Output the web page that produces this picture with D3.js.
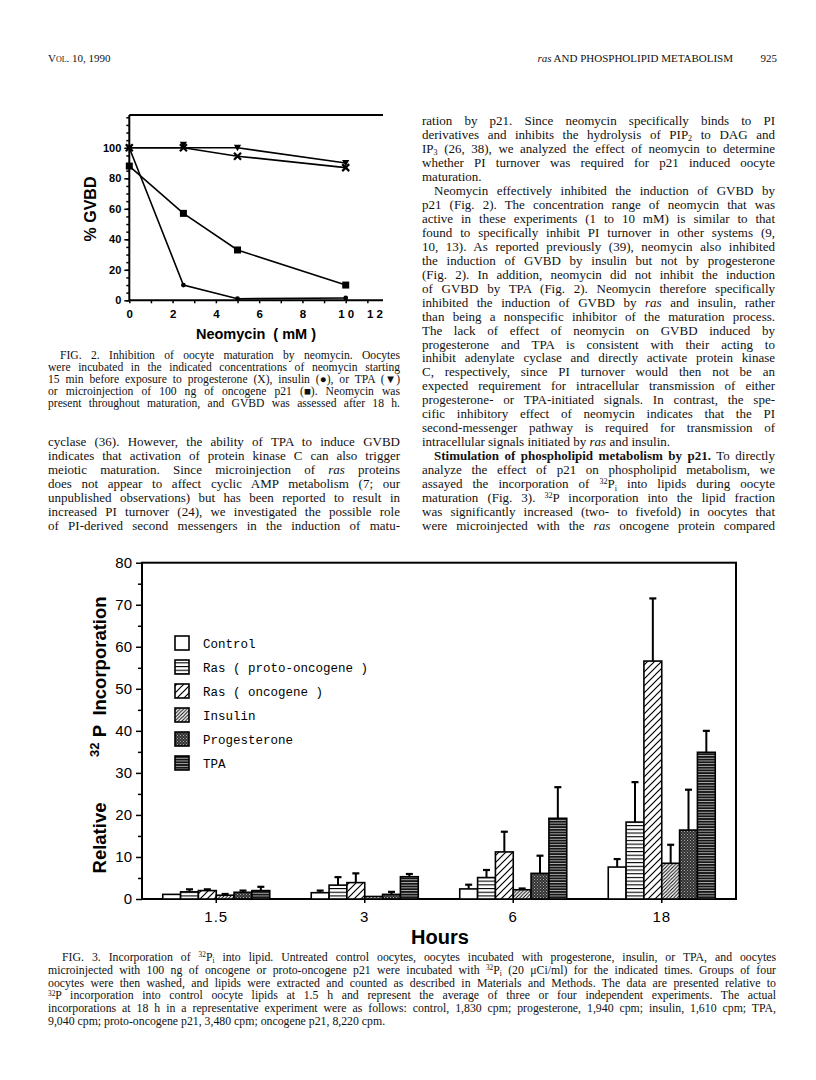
<!DOCTYPE html>
<html>
<head>
<meta charset="utf-8">
<script src="https://d3js.org/d3.v7.min.js"></script>
<style>
body { margin: 0; background: #fff; }
svg { display: block; }
</style>
</head>
<body>
<div id="page"></div>
<script>
// ---- FIG. 2 data (percent GVBD vs neomycin) ----
const neoDoses = [0, 2.5, 5, 10]
const gvbdTPA = [100, 102, 100, 90]
const gvbdProg = [100, 100, 94.5, 87]
const gvbdP21 = [88, 57, 33, 10]
const gvbdInsulin = [100, 10, 1, 1.5]
const neoTicks = [0, 2, 4, 6, 8, 10, 12]
const neoTickLabels = ["0", "2", "4", "6", "8", "1 0", "1 2"]
const gvbdTicks = [0, 20, 40, 60, 80, 100]

// ---- FIG. 3 data (relative 32P incorporation) ----
const hours = ["1.5", "3", "6", "18"]
const treatments = ["Control", "Ras ( proto-oncogene )", "Ras ( oncogene )", "Insulin", "Progesterone", "TPA"]
const incControl = [1.1, 1.5, 2.4, 7.6]
const incProto = [1.7, 3.3, 5.1, 18.3]
const incOnco = [2.0, 3.9, 11.2, 56.6]
const incInsulin = [0.9, 0.6, 2.2, 8.5]
const incProg = [1.6, 1.1, 6.1, 16.4]
const incTPA = [2.0, 5.3, 19.2, 34.9]
// error bars (upper only)
const sdControl = [0, 0.5, 1.0, 1.9]
const sdProto = [0.6, 1.9, 1.8, 9.5]
const sdOnco = [0.3, 2.2, 4.8, 14.9]
const sdInsulin = [0.3, 0, 0.3, 4.4]
const sdProg = [0.4, 0.6, 4.2, 9.6]
const sdTPA = [0.9, 0.65, 7.4, 5.1]
const relTicks = [0, 10, 20, 30, 40, 50, 60, 70, 80]

const W = 816, H = 1080
const svg = d3.select("#page").append("svg").attr("width", W).attr("height", H)
svg.append("rect").attr("width", W).attr("height", H).attr("fill", "#fff")

const serif = "'Liberation Serif', 'Times New Roman', serif"
const sans = "'Liberation Sans', Arial, Helvetica, sans-serif"
const mono = "'Liberation Mono', 'Courier New', monospace"

// ---------- page text helpers ----------
// tiny markup: <i>, <b>, <sup>, <sub>
function richLine(x, y, str, size, width, justify) {
    let t = svg.append("text").attr("x", x).attr("y", y)
        .attr("font-family", serif).attr("font-size", size).attr("fill", "#111")
        .attr("xml:space", "preserve")
    let parts = str.split(/(<\/?(?:i|b|sup|sub)>)/)
    let st = {i: false, b: false, shift: 0}
    let cur = 0
    parts.forEach(p => {
        let m = p.match(/^<(\/?)(i|b|sup|sub)>$/)
        if (m) {
            let on = m[1] === ""
            if (m[2] === "i") st.i = on
            if (m[2] === "b") st.b = on
            if (m[2] === "sup") st.shift = on ? -size * 0.3 : 0
            if (m[2] === "sub") st.shift = on ? size * 0.18 : 0
            return
        }
        if (p === "") return
        let ts = t.append("tspan").text(p)
            .attr("dy", st.shift - cur)
        cur = st.shift
        if (st.i) ts.attr("font-style", "italic")
        if (st.b) ts.attr("font-weight", "bold")
        if (st.shift !== 0) ts.attr("font-size", size * 0.62)
    })
    if (justify) {
        let plain = str.replace(/<[^>]+>/g, "")
        let nSp = (plain.trim().match(/ /g) || []).length
        let w = t.node().getComputedTextLength()
        if (nSp > 0) t.style("word-spacing", ((width - w) / nSp) + "px")
    }
    return t
}

function paragraph(lines, x0, y0, step, size, width, indent) {
    lines.forEach((l, i) => {
        let ind = l.indent ? indent : 0
        richLine(x0 + ind, y0 + i * step, l.t, size, width - ind, l.j !== false)
    })
}

// header
svg.append("text").attr("x", 48).attr("y", 62).attr("font-family", serif).attr("font-size", 11)
    .attr("fill", "#111").style("font-variant", "small-caps").text("Vol. 10, 1990")
svg.append("text").attr("x", 733).attr("y", 62).attr("text-anchor", "end").attr("font-family", serif)
    .attr("font-size", 11).attr("fill", "#111")
    .html("<tspan font-style='italic'>ras</tspan> AND PHOSPHOLIPID METABOLISM")
svg.append("text").attr("x", 777).attr("y", 62).attr("text-anchor", "end").attr("font-family", serif)
    .attr("font-size", 11).attr("fill", "#111").text("925")

const lineStep = 13.97
const bodySize = 13

// right column text
const rightCol = [
    {t: "ration by p21. Since neomycin specifically binds to PI"},
    {t: "derivatives and inhibits the hydrolysis of PIP<sub>2</sub> to DAG and"},
    {t: "IP<sub>3</sub> (26, 38), we analyzed the effect of neomycin to determine"},
    {t: "whether PI turnover was required for p21 induced oocyte"},
    {t: "maturation.", j: false},
    {t: "Neomycin effectively inhibited the induction of GVBD by", indent: true},
    {t: "p21 (Fig. 2). The concentration range of neomycin that was"},
    {t: "active in these experiments (1 to 10 mM) is similar to that"},
    {t: "found to specifically inhibit PI turnover in other systems (9,"},
    {t: "10, 13). As reported previously (39), neomycin also inhibited"},
    {t: "the induction of GVBD by insulin but not by progesterone"},
    {t: "(Fig. 2). In addition, neomycin did not inhibit the induction"},
    {t: "of GVBD by TPA (Fig. 2). Neomycin therefore specifically"},
    {t: "inhibited the induction of GVBD by <i>ras</i> and insulin, rather"},
    {t: "than being a nonspecific inhibitor of the maturation process."},
    {t: "The lack of effect of neomycin on GVBD induced by"},
    {t: "progesterone and TPA is consistent with their acting to"},
    {t: "inhibit adenylate cyclase and directly activate protein kinase"},
    {t: "C, respectively, since PI turnover would then not be an"},
    {t: "expected requirement for intracellular transmission of either"},
    {t: "progesterone- or TPA-initiated signals. In contrast, the spe-"},
    {t: "cific inhibitory effect of neomycin indicates that the PI"},
    {t: "second-messenger pathway is required for transmission of"},
    {t: "intracellular signals initiated by <i>ras</i> and insulin.", j: false},
    {t: "<b>Stimulation of phospholipid metabolism by p21.</b> To directly", indent: true},
    {t: "analyze the effect of p21 on phospholipid metabolism, we"},
    {t: "assayed the incorporation of <sup>32</sup>P<sub>i</sub> into lipids during oocyte"},
    {t: "maturation (Fig. 3). <sup>32</sup>P incorporation into the lipid fraction"},
    {t: "was significantly increased (two- to fivefold) in oocytes that"},
    {t: "were microinjected with the <i>ras</i> oncogene protein compared"}
]
paragraph(rightCol, 422, 125, lineStep, bodySize, 353, 12)

// left column body text
const leftCol = [
    {t: "cyclase (36). However, the ability of TPA to induce GVBD"},
    {t: "indicates that activation of protein kinase C can also trigger"},
    {t: "meiotic maturation. Since microinjection of <i>ras</i> proteins"},
    {t: "does not appear to affect cyclic AMP metabolism (7; our"},
    {t: "unpublished observations) but has been reported to result in"},
    {t: "increased PI turnover (24), we investigated the possible role"},
    {t: "of PI-derived second messengers in the induction of matu-"}
]
paragraph(leftCol, 48, 125 + 23 * lineStep, lineStep, bodySize, 352, 12)

const fig2Caption = [
    {t: "FIG. 2. Inhibition of oocyte maturation by neomycin. Oocytes", indent: true},
    {t: "were incubated in the indicated concentrations of neomycin starting"},
    {t: "15 min before exposure to progesterone (X), insulin (\u25CF), or TPA (\u25BC)"},
    {t: "or microinjection of 100 ng of oncogene p21 (\u25A0). Neomycin was"},
    {t: "present throughout maturation, and GVBD was assessed after 18 h."}
]
paragraph(fig2Caption, 48, 359, 12, 11.6, 352, 12)

const fig3Caption = [
    {t: "FIG. 3. Incorporation of <sup>32</sup>P<sub>i</sub> into lipid. Untreated control oocytes, oocytes incubated with progesterone, insulin, or TPA, and oocytes", indent: true},
    {t: "microinjected with 100 ng of oncogene or proto-oncogene p21 were incubated with <sup>32</sup>P<sub>i</sub> (20 \u03BCCi/ml) for the indicated times. Groups of four"},
    {t: "oocytes were then washed, and lipids were extracted and counted as described in Materials and Methods. The data are presented relative to"},
    {t: "<sup>32</sup>P incorporation into control oocyte lipids at 1.5 h and represent the average of three or four independent experiments. The actual"},
    {t: "incorporations at 18 h in a representative experiment were as follows: control, 1,830 cpm; progesterone, 1,940 cpm; insulin, 1,610 cpm; TPA,"},
    {t: "9,040 cpm; proto-oncogene p21, 3,480 cpm; oncogene p21, 8,220 cpm.", j: false}
]
paragraph(fig3Caption, 48, 961, 12.8, 11.8, 728, 14)

// ---------- FIG. 2 line chart ----------
const g2 = svg.append("g")
const x2 = d3.scaleLinear().domain([0, 12]).range([129.3, 389])
const y2 = d3.scaleLinear().domain([0, 121.5]).range([300.3, 115])
const x2End = 383

g2.append("line").attr("x1", x2(0)).attr("x2", x2End).attr("y1", y2(0)).attr("y2", y2(0))
    .attr("stroke", "#000").attr("stroke-width", 2)
g2.append("line").attr("x1", x2(0)).attr("x2", x2End).attr("y1", y2.range()[1]).attr("y2", y2.range()[1])
    .attr("stroke", "#000").attr("stroke-width", 2)
g2.append("line").attr("x1", x2(0)).attr("x2", x2(0)).attr("y1", y2(0)).attr("y2", y2.range()[1])
    .attr("stroke", "#000").attr("stroke-width", 2)

// y ticks
g2.append("g").attr("transform", "translate(" + x2(0) + ",0)")
    .call(d3.axisLeft(y2).tickValues(d3.range(0, 121, 5)).tickSize(3).tickFormat(""))
    .call(g => g.select(".domain").remove())
    .call(g => g.selectAll("line").attr("stroke-width", 1.5))
g2.append("g").attr("transform", "translate(" + x2(0) + ",0)")
    .call(d3.axisLeft(y2).tickValues(gvbdTicks).tickSize(5).tickPadding(3))
    .call(g => g.select(".domain").remove())
    .call(g => g.selectAll("line").attr("stroke-width", 1.5))
    .call(g => g.selectAll("text").attr("font-family", sans).attr("font-weight", "bold")
        .attr("font-size", 11).attr("fill", "#000"))

// x ticks
g2.append("g").attr("transform", "translate(0," + y2(0) + ")")
    .call(d3.axisBottom(x2).tickValues(d3.range(0, 12, 1)).tickSize(3).tickFormat(""))
    .call(g => g.select(".domain").remove())
    .call(g => g.selectAll("line").attr("stroke-width", 1.5))
g2.append("g").attr("transform", "translate(0," + y2(0) + ")")
    .call(d3.axisBottom(x2).tickValues(neoTicks).tickSize(0).tickPadding(10)
        .tickFormat((d, i) => neoTickLabels[i]))
    .call(g => g.select(".domain").remove())
    .call(g => g.selectAll(".tick").filter(d => d === 12).attr("transform", "translate(" + (x2End - 8) + ",0)"))
    .call(g => g.selectAll("text").attr("font-family", sans).attr("font-weight", "bold")
        .attr("font-size", 11.5).attr("fill", "#000").attr("xml:space", "preserve"))

const line2 = d3.line().x((d, i) => x2(neoDoses[i])).y(d => y2(d))
const series2 = [
    {vals: gvbdTPA, mark: "tri"},
    {vals: gvbdProg, mark: "x"},
    {vals: gvbdP21, mark: "sq"},
    {vals: gvbdInsulin, mark: "dot"}
]
series2.forEach(s => {
    let lv = s.mark === "tri" ? s.vals.map(v => Math.min(v, 100)) : s.vals
    g2.append("path").attr("d", line2(lv)).attr("fill", "none")
        .attr("stroke", "#000").attr("stroke-width", 1.6)
    let pts = g2.append("g").selectAll("g").data(s.vals).join("g")
        .attr("transform", (d, i) => "translate(" + x2(neoDoses[i]) + "," + y2(d) + ")")
    if (s.mark === "sq") pts.append("rect").attr("x", -3.5).attr("y", -3.5).attr("width", 7).attr("height", 7).attr("fill", "#000")
    if (s.mark === "dot") pts.append("circle").attr("r", 2.4).attr("fill", "#000")
    if (s.mark === "tri") pts.append("path").attr("d", "M-3.6,-3 L3.6,-3 L0,3.5 Z").attr("fill", "#000")
    if (s.mark === "x") pts.append("path").attr("d", "M-3.5,-3.5 L3.5,3.5 M3.5,-3.5 L-3.5,3.5")
        .attr("stroke", "#000").attr("stroke-width", 2.2)
})

svg.append("text").attr("transform", "translate(96,209) rotate(-90)").attr("text-anchor", "middle")
    .attr("font-family", sans).attr("font-weight", "bold").attr("font-size", 16).text("% GVBD")
svg.append("text").attr("x", 256).attr("y", 339).attr("text-anchor", "middle").attr("xml:space", "preserve")
    .attr("font-family", sans).attr("font-weight", "bold").attr("font-size", 14.5).text("Neomycin  ( mM )")

// ---------- FIG. 3 bar chart ----------
const defs = svg.append("defs")
function pat(id, w, h, build) {
    let p = defs.append("pattern").attr("id", id).attr("patternUnits", "userSpaceOnUse")
        .attr("width", w).attr("height", h)
    build(p)
}
pat("pProto", 6, 3.7, p => {
    p.append("rect").attr("width", 6).attr("height", 3.7).attr("fill", "#fff")
    p.append("rect").attr("y", 0).attr("width", 6).attr("height", 1.1).attr("fill", "#000")
})
pat("pOnco", 7, 7, p => {
    p.append("rect").attr("width", 7).attr("height", 7).attr("fill", "#fff")
    p.append("path").attr("d", "M-1,8 L8,-1 M-1,1 L1,-1 M6,8 L8,6").attr("stroke", "#000").attr("stroke-width", 1.2)
})
pat("pIns", 3.5, 3.5, p => {
    p.append("rect").attr("width", 3.5).attr("height", 3.5).attr("fill", "#fff")
    p.append("path").attr("d", "M-0.5,4 L4,-0.5 M-0.5,0.5 L0.5,-0.5 M3,4 L4,3").attr("stroke", "#000").attr("stroke-width", 1)
})
pat("pProg", 3, 3, p => {
    p.append("rect").attr("width", 3).attr("height", 3).attr("fill", "#333")
    p.append("rect").attr("x", 0).attr("y", 0).attr("width", 1).attr("height", 1).attr("fill", "#aaa")
    p.append("rect").attr("x", 1.5).attr("y", 1.5).attr("width", 1).attr("height", 1).attr("fill", "#888")
})
pat("pTPA", 4, 2.7, p => {
    p.append("rect").attr("width", 4).attr("height", 2.7).attr("fill", "#151515")
    p.append("rect").attr("y", 1.8).attr("width", 4).attr("height", 0.7).attr("fill", "#ddd")
})
const fills = ["#fff", "url(#pProto)", "url(#pOnco)", "url(#pIns)", "url(#pProg)", "url(#pTPA)"]
const means = [incControl, incProto, incOnco, incInsulin, incProg, incTPA]
const sds = [sdControl, sdProto, sdOnco, sdInsulin, sdProg, sdTPA]

const x3 = d3.scaleBand().domain(hours).range([142, 736])
const inner = d3.scaleBand().domain(d3.range(treatments.length)).range([-53.5, 53.5])
const y3 = d3.scaleLinear().domain([0, 80]).range([899, 562.7])
const g3 = svg.append("g")

// frame
g3.append("rect").attr("x", 142).attr("y", y3(80)).attr("width", 736 - 142).attr("height", y3(0) - y3(80))
    .attr("fill", "none").attr("stroke", "#000").attr("stroke-width", 2)

g3.append("g").attr("transform", "translate(142,0)")
    .call(d3.axisLeft(y3).tickValues(d3.range(5, 80, 10)).tickSize(4).tickFormat(""))
    .call(g => g.select(".domain").remove())
    .call(g => g.selectAll("line").attr("stroke-width", 1.5))
g3.append("g").attr("transform", "translate(142,0)")
    .call(d3.axisLeft(y3).tickValues(relTicks).tickSize(6).tickPadding(4))
    .call(g => g.select(".domain").remove())
    .call(g => g.selectAll("line").attr("stroke-width", 1.5))
    .call(g => g.selectAll("text").attr("font-family", sans).attr("font-size", 15).attr("fill", "#000"))
g3.append("g").attr("transform", "translate(0," + y3(0) + ")")
    .call(d3.axisBottom(x3).tickSize(4).tickPadding(8))
    .call(g => g.select(".domain").remove())
    .call(g => g.selectAll("line").attr("stroke-width", 1.5))
    .call(g => g.selectAll("text").attr("font-family", sans).attr("font-size", 15).attr("fill", "#000")
        .attr("letter-spacing", 1))

// bars
treatments.forEach((tr, k) => {
    let grp = g3.append("g")
    hours.forEach((h, i) => {
        let bx = x3(h) + x3.bandwidth() / 2 + inner(k)
        let bw = inner.bandwidth()
        let v = means[k][i], e = sds[k][i]
        if (e > 0) {
            grp.append("line").attr("x1", bx + bw / 2).attr("x2", bx + bw / 2)
                .attr("y1", y3(v)).attr("y2", y3(v + e)).attr("stroke", "#000").attr("stroke-width", 2)
            grp.append("line").attr("x1", bx + bw / 2 - 3.5).attr("x2", bx + bw / 2 + 3.5)
                .attr("y1", y3(v + e)).attr("y2", y3(v + e)).attr("stroke", "#000").attr("stroke-width", 2.2)
        }
        grp.append("rect").attr("x", bx).attr("y", y3(v)).attr("width", bw).attr("height", y3(0) - y3(v))
            .attr("fill", fills[k]).attr("stroke", "#000").attr("stroke-width", 1.6)
    })
})

// legend
const leg = g3.append("g")
treatments.forEach((tr, k) => {
    let ly = 643 + k * 24
    leg.append("rect").attr("x", 175).attr("y", ly - 7).attr("width", 14).attr("height", 14)
        .attr("fill", fills[k]).attr("stroke", "#000").attr("stroke-width", 1.6)
    leg.append("text").attr("x", 203).attr("y", ly + 4.5).attr("font-family", mono).attr("font-size", 12.5)
        .attr("fill", "#000").attr("xml:space", "preserve").text(tr)
})

// axis titles
const yl = svg.append("g").attr("font-family", sans).attr("font-weight", "bold").attr("fill", "#000")
yl.append("text").attr("transform", "translate(106,838) rotate(-90)").attr("text-anchor", "middle")
    .attr("font-size", 18.5).text("Relative")
yl.append("text").attr("transform", "translate(106,741) rotate(-90)").attr("text-anchor", "middle")
    .attr("font-size", 18.5).html("<tspan font-size='13' dy='-7'>32</tspan><tspan dy='7'> P</tspan>")
yl.append("text").attr("transform", "translate(106,656) rotate(-90)").attr("text-anchor", "middle")
    .attr("font-size", 18.5).text("Incorporation")
svg.append("text").attr("x", 440).attr("y", 944).attr("text-anchor", "middle").attr("font-family", sans)
    .attr("font-weight", "bold").attr("font-size", 20).text("Hours")
</script>
</body>
</html>
